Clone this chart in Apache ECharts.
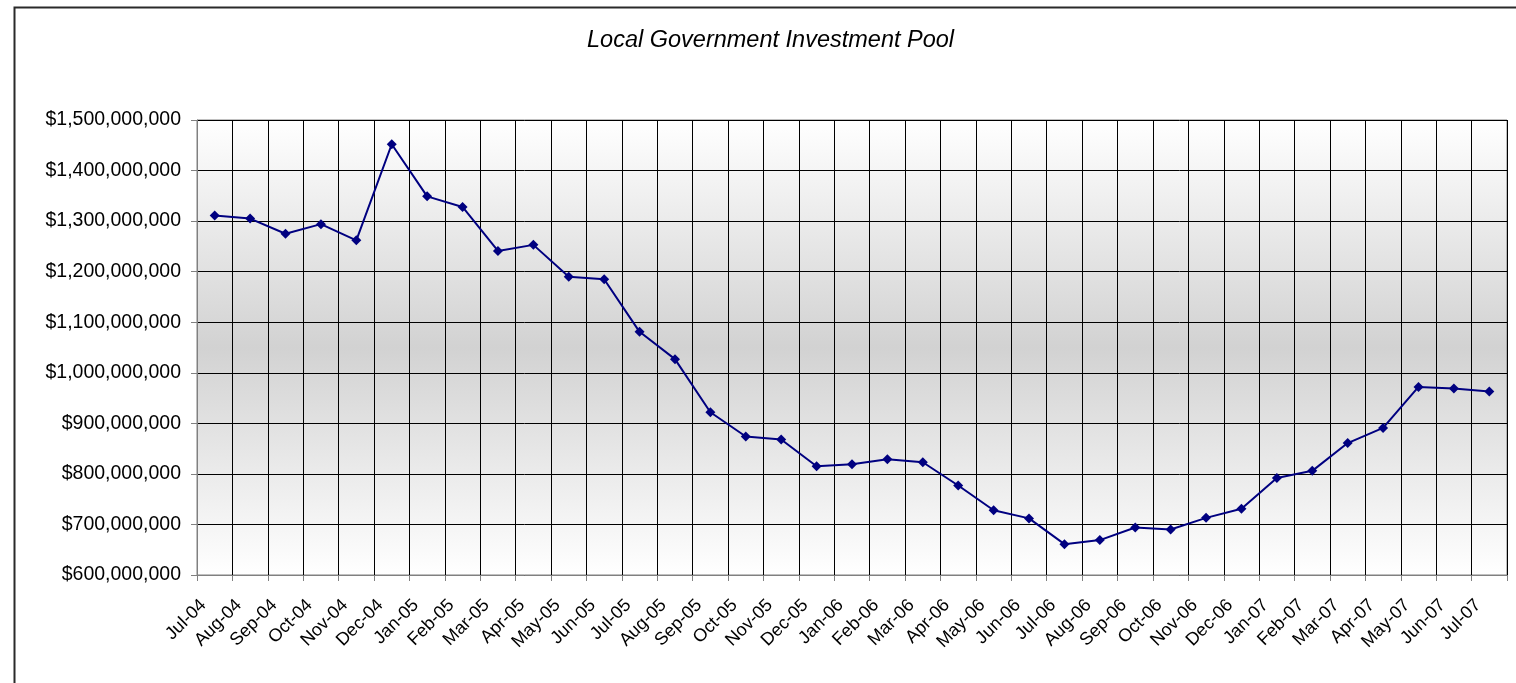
<!DOCTYPE html>
<html>
<head>
<meta charset="utf-8">
<script src="https://cdn.jsdelivr.net/npm/echarts@6/dist/echarts.min.js"></script>
<style>
html,body{margin:0;padding:0;background:#fff;}
#chart{width:1516px;height:683px;}
</style>
</head>
<body>
<div id="chart"></div>
<script>
const chartTitle = 'Local Government Investment Pool';
const months = ['Jul-04','Aug-04','Sep-04','Oct-04','Nov-04','Dec-04','Jan-05','Feb-05','Mar-05','Apr-05','May-05','Jun-05','Jul-05','Aug-05','Sep-05','Oct-05','Nov-05','Dec-05','Jan-06','Feb-06','Mar-06','Apr-06','May-06','Jun-06','Jul-06','Aug-06','Sep-06','Oct-06','Nov-06','Dec-06','Jan-07','Feb-07','Mar-07','Apr-07','May-07','Jun-07','Jul-07'];
const poolBalance = [1311000000,1305000000,1275000000,1294000000,1262000000,1452000000,1349000000,1328000000,1241000000,1253000000,1190000000,1185000000,1081000000,1027000000,922000000,874000000,868000000,815000000,819000000,829000000,823000000,777000000,728000000,712000000,661000000,669000000,694000000,690000000,713000000,731000000,792000000,806000000,861000000,891000000,972000000,969000000,963000000];
const yMin = 600000000, yMax = 1500000000, yStep = 100000000;

const chart = echarts.init(document.getElementById('chart'), null, {renderer:'canvas'});
const fmt = v => '$' + Math.round(v).toString().replace(/\B(?=(\d{3})+(?!\d))/g, ',');
chart.setOption({
  animation:false,
  backgroundColor:'#ffffff',
  title:{
    text: chartTitle, left: 582, top: 24,
    textStyle:{fontFamily:'Liberation Sans', fontStyle:'italic', fontWeight:'normal', fontSize:23.5, color:'#000'}
  },
  graphic:[{
    type:'rect', left:12, top:5, silent:true,
    shape:{width:1520, height:700},
    style:{fill:'none', stroke:'#2a2a2a', lineWidth:2}
  }],
  grid:{
    left:197, right:9, top:120, bottom:108, containLabel:false,
    show:true, borderColor:'#808080', borderWidth:1,
    backgroundColor:{type:'linear', x:0, y:0, x2:0, y2:1, colorStops:[
      {offset:0, color:'#ffffff'},{offset:0.5, color:'#d2d2d2'},{offset:1, color:'#ffffff'}]}
  },
  xAxis:{
    type:'category', data: months, boundaryGap:true,
    axisLine:{show:true, lineStyle:{color:'#808080', width:1}},
    axisTick:{show:true, length:6, alignWithLabel:false, lineStyle:{color:'#808080'}},
    splitLine:{show:true, lineStyle:{color:'#000000', width:1}},
    axisLabel:{rotate:45, interval:0, margin:16, padding:[0,16,0,0], fontFamily:'Liberation Sans', fontSize:18, color:'#000'}
  },
  yAxis:{
    type:'value', min:yMin, max:yMax, interval:yStep,
    axisLine:{show:true, lineStyle:{color:'#808080', width:1}},
    axisTick:{show:true, length:6, lineStyle:{color:'#808080'}},
    splitLine:{show:true, lineStyle:{color:'#000000', width:1}},
    axisLabel:{formatter: fmt, margin:16, fontFamily:'Liberation Sans', fontSize:19.5, color:'#000'}
  },
  series:[{
    type:'line', data: poolBalance,
    lineStyle:{color:'#000080', width:2},
    itemStyle:{color:'#000080'},
    symbol:'diamond', symbolSize:10, showSymbol:true
  }]
});
</script>
</body>
</html>
